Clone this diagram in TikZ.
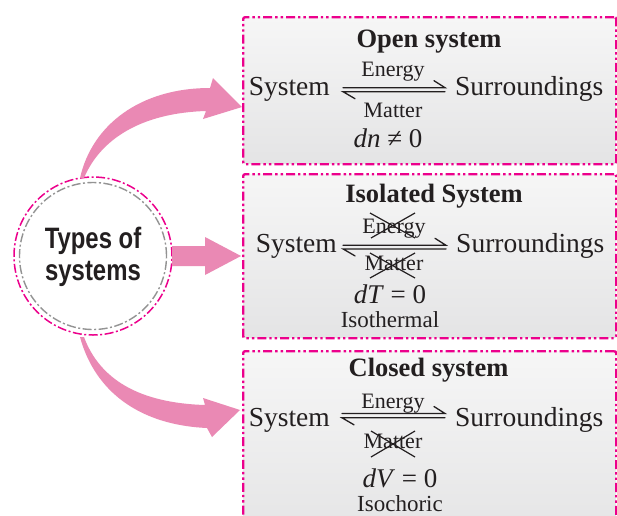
\documentclass[tikz,border=0pt]{standalone}
\usepackage{fontspec}
\setmainfont{Liberation Serif}
\newfontfamily\condfont[FakeStretch=0.81]{Liberation Sans}
\definecolor{mag}{RGB}{236,0,140}
\definecolor{arrpink}{RGB}{234,137,180}
\definecolor{boxtop}{RGB}{246,246,246}
\definecolor{boxbot}{RGB}{228,228,229}
\definecolor{txt}{RGB}{35,31,32}
\begin{document}
\begin{tikzpicture}[x=1pt,y=-1pt,
  sysbox/.style={draw=mag, line width=2.4pt,
     dash pattern=on 9pt off 3pt on 2.4pt off 3pt on 2.4pt off 3pt,
     rounded corners=2pt, top color=boxtop, bottom color=boxbot,
     inner sep=0pt, anchor=north west},
  big/.style={font=\fontsize{27.5}{30}\selectfont, text=txt, inner sep=0pt},
  ttl/.style={font=\fontsize{26.5}{30}\selectfont\bfseries, text=txt, inner sep=0pt, anchor=base},
  lbl/.style={font=\fontsize{22}{26}\selectfont, text=txt, inner sep=0pt, anchor=base},
  eqn/.style={font=\fontsize{27}{30}\selectfont, text=txt, inner sep=0pt, anchor=base},
  sml/.style={font=\fontsize{23}{26}\selectfont, text=txt, inner sep=0pt, anchor=base},
  harp/.style={draw=txt, line width=1.3pt, line cap=round},
  xout/.style={draw=txt, line width=1.2pt},
  bigarrow/.style={fill=arrpink, draw=none}
]
\clip (0,0) rectangle (617,515);
\fill[white] (0,0) rectangle (617,515);

% boxes
\node[sysbox, minimum width=373pt, minimum height=147pt] (open) at (242,16) {};
\node[sysbox, minimum width=373pt, minimum height=164pt] (iso) at (242,173) {};
\node[sysbox, minimum width=373pt, minimum height=190pt] (closed) at (242,350) {};

% circle
\node[circle, draw=mag, line width=1.5pt, dash pattern=on 9pt off 2.5pt on 2pt off 2.5pt,
      minimum size=158pt, inner sep=0pt, fill=white] (types) at (93,256) {};
\node[circle, draw=gray!85, line width=1.4pt, dash pattern=on 9pt off 2.5pt on 2pt off 2.5pt,
      minimum size=147pt, inner sep=0pt] (typesin) at (93,256) {};
\node[font=\fontsize{29.5}{32}\selectfont\condfont\bfseries, text=txt, inner sep=0pt, anchor=base] (t1) at (93,248) {Types of};
\node[font=\fontsize{29.5}{32}\selectfont\condfont\bfseries, text=txt, inner sep=0pt, anchor=base] (t2) at (93,280) {systems};

% big arrows
\fill[bigarrow] (172,246) -- (205,246) -- (205,237) -- (241,256) -- (205,275) -- (205,266) -- (172,266) -- cycle;
\fill[bigarrow] (80,178) .. controls (92,125) and (140,88) .. (210,88)
   -- (213,78) -- (242,107) -- (203,119) -- (206,111)
   .. controls (140,113) and (100,140) .. (84,178) -- cycle;
\fill[bigarrow] (84,337) .. controls (100,380) and (140,403) .. (205,405)
   -- (203,398) -- (240,410) -- (212,437) -- (207,428)
   .. controls (140,425) and (95,392) .. (80,337) -- cycle;

% ---- Open system
\node[ttl] (ot) at (429,47) {Open system};
\node[big, anchor=base east] (os) at (330,95) {System};
\node[big, anchor=base west] (osu) at (455,95) {Surroundings};
\coordinate (oa1) at (343,87.7); \coordinate (ob1) at (445,87.7);
\coordinate (oa2) at (343,91.7); \coordinate (ob2) at (445,91.7);
\draw[harp] (oa1) -- (ob1) -- ++(-11,-7);
\draw[harp] (ob2) -- (oa2) -- ++(12,7);
\node[lbl] (oe) at (393,76) {Energy};
\node[lbl] (om) at (393,117) {Matter};
\node[eqn] (oq) at (388,147) {\textit{dn} ≠ 0};

% ---- Isolated system
\node[ttl] (it) at (434,202) {Isolated System};
\node[big, anchor=base east] (is) at (337,252) {System};
\node[big, anchor=base west] (isu) at (456,252) {Surroundings};
\coordinate (ia1) at (343,245.3); \coordinate (ib1) at (446,245.3);
\coordinate (ia2) at (343,248.9); \coordinate (ib2) at (446,248.9);
\draw[harp] (ia1) -- (ib1) -- ++(-11,-7);
\draw[harp] (ib2) -- (ia2) -- ++(12,7);
\node[lbl] (ie) at (394,233) {Energy};
\node[lbl] (im) at (394,270) {Matter};
\draw[xout] (370,213) -- (415,238) (415,213) -- (371,238);
\draw[xout] (370,253) -- (415,278) (415,253) -- (370,278);
\node[eqn] (iq) at (390,303) {\textit{dT} = 0};
\node[sml] (ih) at (390,327) {Isothermal};

% ---- Closed system
\node[ttl] (ct) at (428.5,376) {Closed system};
\node[big, anchor=base east] (cs) at (330,426) {System};
\node[big, anchor=base west] (csu) at (455,426) {Surroundings};
\coordinate (ca1) at (342,413.5); \coordinate (cb1) at (445,413.5);
\coordinate (ca2) at (342,417.8); \coordinate (cb2) at (445,417.8);
\draw[harp] (ca1) -- (cb1) -- ++(-11,-7);
\draw[harp] (cb2) -- (ca2) -- ++(12,7);
\node[lbl] (ce) at (393,408) {Energy};
\node[lbl] (cm) at (393,448) {Matter};
\draw[xout] (371,431) -- (415,457) (415,431) -- (371,457);
\node[eqn] (cq) at (400,487) {\textit{dV} = 0};
\node[sml] (ch) at (400,511) {Isochoric};
\end{tikzpicture}
\end{document}
